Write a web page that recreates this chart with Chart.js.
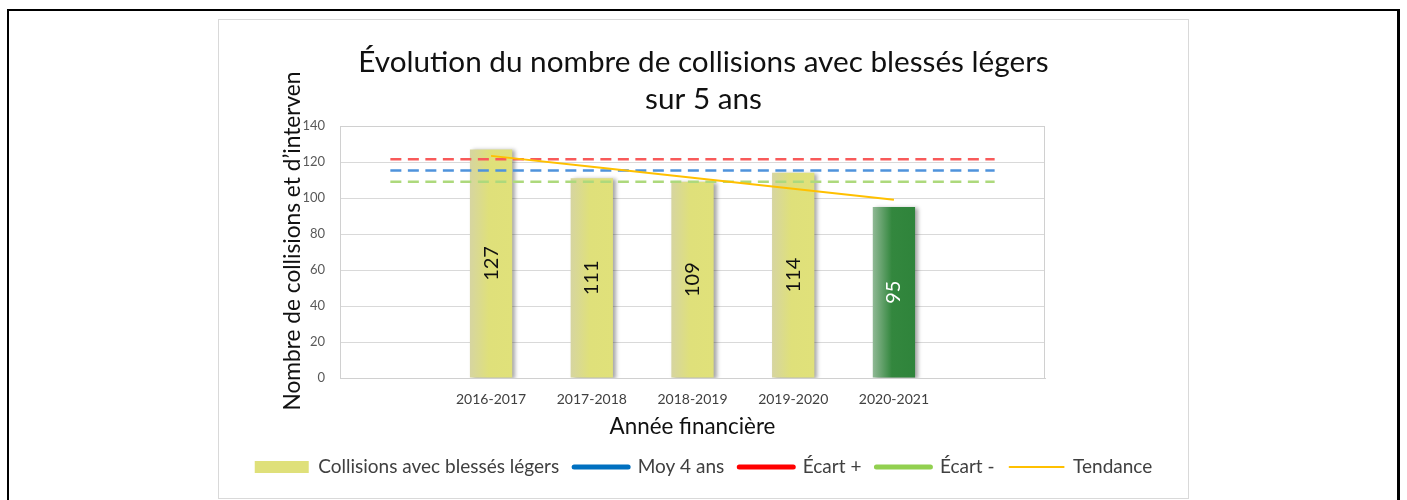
<!DOCTYPE html>
<html>
<head>
<meta charset="utf-8">
<script src="https://cdn.jsdelivr.net/npm/chart.js@4.4.1/dist/chart.umd.min.js"></script>
<style>
  html, body { margin: 0; padding: 0; background: #fff; }
  #wrap { position: relative; width: 1407px; height: 500px; overflow: hidden; }
  #outer { position: absolute; left: 7px; top: 9px; width: 1388px; height: 600px; border: 2px solid #000; border-right-width: 3px; }
  #box { position: absolute; left: 218px; top: 19px; width: 969px; height: 478px; border: 1px solid #d9d9d9; }
  canvas { position: absolute; left: 0; top: 0; }
</style>
</head>
<body>
<div id="wrap">
  <div id="outer"></div>
  <div id="box"></div>
  <canvas id="c" width="1407" height="500"></canvas>
</div>
<script>
// ---- data ----
const categories = ['', '2016-2017', '2017-2018', '2018-2019', '2019-2020', '2020-2021', ''];
const collisions = [null, 127, 111, 109, 114, 95, null];
const moy4ans   = [115.25, 115.25, 115.25, 115.25, 115.25, 115.25, 115.25];
const ecartPlus = [121.5, 121.5, 121.5, 121.5, 121.5, 121.5, 121.5];
const ecartMoins = [109, 109, 109, 109, 109, 109, 109];
const tendance  = [null, 123.4, 117.3, 111.2, 105.1, 99.0, null];
const yTicks = [0, 20, 40, 60, 80, 100, 120, 140];
const seriesNames = ['Collisions avec blessés légers', 'Moy 4 ans', 'Écart +', 'Écart -', 'Tendance'];
const titleLines = ['Évolution du nombre de collisions avec blessés légers', 'sur 5 ans'];
const yTitle = 'Nombre de collisions et d\u2019interven';
const xTitle = 'Année financière';

const FONT = 'Lato, "Open Sans", sans-serif';
const lastIndex = 5;

function barFill(ctx) {
  const chart = ctx.chart;
  const x = chart.scales.x;
  if (!x || ctx.dataIndex === undefined) return '#dfe07a';
  const isLast = ctx.dataIndex === lastIndex;
  const cx = x.getPixelForValue(ctx.dataIndex);
  const half = 21;
  const g = chart.ctx.createLinearGradient(cx - half, 0, cx + half, 0);
  if (isLast) {
    g.addColorStop(0, '#8fb894');
    g.addColorStop(0.45, '#33873e');
    g.addColorStop(1, '#2f843b');
  } else {
    g.addColorStop(0, '#d6d5a0');
    g.addColorStop(0.45, '#dfe07a');
    g.addColorStop(1, '#e0e17a');
  }
  return g;
}

const shadowPlugin = {
  id: 'barShadow',
  beforeDatasetDraw(chart, args) {
    if (args.index !== 0) return;
    const ctx = chart.ctx;
    ctx.save();
    ctx.shadowColor = 'rgba(0,0,0,0.35)';
    ctx.shadowBlur = 4;
    ctx.shadowOffsetX = 3;
    ctx.shadowOffsetY = 1;
  },
  afterDatasetDraw(chart, args) {
    if (args.index !== 0) return;
    chart.ctx.restore();
  }
};

const frameAndLabels = {
  id: 'frameAndLabels',
  beforeDatasetsDraw(chart) {
    const { ctx, chartArea: a } = chart;
    ctx.save();
    ctx.strokeStyle = '#d0d0d0';
    ctx.lineWidth = 1;
    ctx.strokeRect(a.left + 0.5, a.top + 0.5, a.right - a.left - 1, a.bottom - a.top);
    // y axis title
    ctx.translate(293, 241);
    ctx.rotate(-Math.PI / 2);
    ctx.font = '22.7px ' + FONT;
    ctx.fillStyle = '#111';
    ctx.textAlign = 'center';
    ctx.textBaseline = 'middle';
    ctx.fillText(yTitle, 0, 0);
    ctx.restore();
  },
  afterDatasetsDraw(chart) {
    const ctx = chart.ctx;
    const meta = chart.getDatasetMeta(0);
    ctx.save();
    ctx.font = '20px ' + FONT;
    ctx.textAlign = 'center';
    ctx.textBaseline = 'middle';
    meta.data.forEach((el, i) => {
      const v = collisions[i];
      if (v === null) return;
      const p = el.getProps(['x', 'y', 'base'], true);
      ctx.save();
      ctx.translate(p.x, (p.y + p.base) / 2);
      ctx.rotate(-Math.PI / 2);
      ctx.fillStyle = i === lastIndex ? '#ffffff' : '#111111';
      ctx.fillText(String(v), 0, 0);
      ctx.restore();
    });
    ctx.restore();
  }
};

const dashed = (data, color, label) => ({
  type: 'line', label, data,
  borderColor: color, backgroundColor: color,
  borderWidth: 2.6, borderDash: [11, 6.5],
  pointRadius: 0, fill: false, order: 1, spanGaps: false
});

new Chart(document.getElementById('c'), {
  data: {
    labels: categories,
    datasets: [
      {
        type: 'bar', label: seriesNames[0], data: collisions,
        backgroundColor: barFill, borderWidth: 0,
        categoryPercentage: 1, barPercentage: 0.42, order: 2
      },
      dashed(moy4ans, '#4f93dc', seriesNames[1]),
      dashed(ecartPlus, '#f85a5a', seriesNames[2]),
      dashed(ecartMoins, '#add97c', seriesNames[3]),
      {
        type: 'line', label: seriesNames[4], data: tendance,
        borderColor: '#ffc000', backgroundColor: '#ffc000',
        borderWidth: 2, pointRadius: 0, fill: false, order: 0
      }
    ]
  },
  options: {
    responsive: false,
    animation: false,
    devicePixelRatio: 1,
    layout: { padding: { left: 218, right: 218, top: 20, bottom: 13.5 } },
    scales: {
      x: {
        type: 'category',
        afterFit(scale) { scale.height = 64.5; },
        grid: { display: false, drawTicks: false },
        border: { display: true, color: '#d0d0d0' },
        ticks: { color: '#404040', font: { family: FONT, size: 14 }, padding: 13, autoSkip: false, maxRotation: 0 },
        title: { display: true, text: xTitle, color: '#111', font: { family: FONT, size: 22.4 }, padding: { top: 2, bottom: 2 } }
      },
      y: {
        position: 'left',
        min: 0, max: 140,
        afterBuildTicks(scale) { scale.ticks = yTicks.map(v => ({ value: v })); },
        afterFit(scale) { scale.width = 122; },
        grid: { color: '#d9d9d9', lineWidth: 1, drawTicks: false },
        border: { display: true, color: '#d0d0d0' },
        ticks: { color: '#595959', font: { family: FONT, size: 13 }, padding: 15 },
        title: { display: false }
      },
      yR: {
        type: 'linear', position: 'right', display: true,
        afterFit(scale) { scale.width = 144; },
        grid: { display: false, drawTicks: false },
        border: { display: false },
        ticks: { display: false }
      }
    },
    plugins: {
      title: {
        display: true, text: titleLines, color: '#111',
        font: { family: FONT, size: 29.7, weight: 'normal', lineHeight: 1.25 },
        padding: { top: 23.4, bottom: 8.35 }
      },
      legend: {
        display: true, position: 'bottom',
        labels: {
          usePointStyle: true, pointStyleWidth: 54, boxHeight: 12,
          padding: 15, color: '#404040',
          font: { family: FONT, size: 19 },
          generateLabels(chart) {
            return chart.data.datasets.map((ds, i) => ({
              text: ds.label,
              fillStyle: i === 0 ? '#dfe07a' : 'transparent',
              strokeStyle: i === 0 ? '#dfe07a' : (i === 1 ? '#0070c0' : i === 2 ? '#ff0000' : i === 3 ? '#92d050' : '#ffc000'),
              lineWidth: i === 0 ? 0 : (i === 4 ? 2 : 5),
              lineCap: 'round',
              pointStyle: i === 0 ? 'rect' : 'line',
              hidden: false,
              datasetIndex: i,
              fontColor: '#404040'
            }));
          }
        }
      },
      tooltip: { enabled: false }
    }
  },
  plugins: [shadowPlugin, frameAndLabels]
});
</script>
</body>
</html>
